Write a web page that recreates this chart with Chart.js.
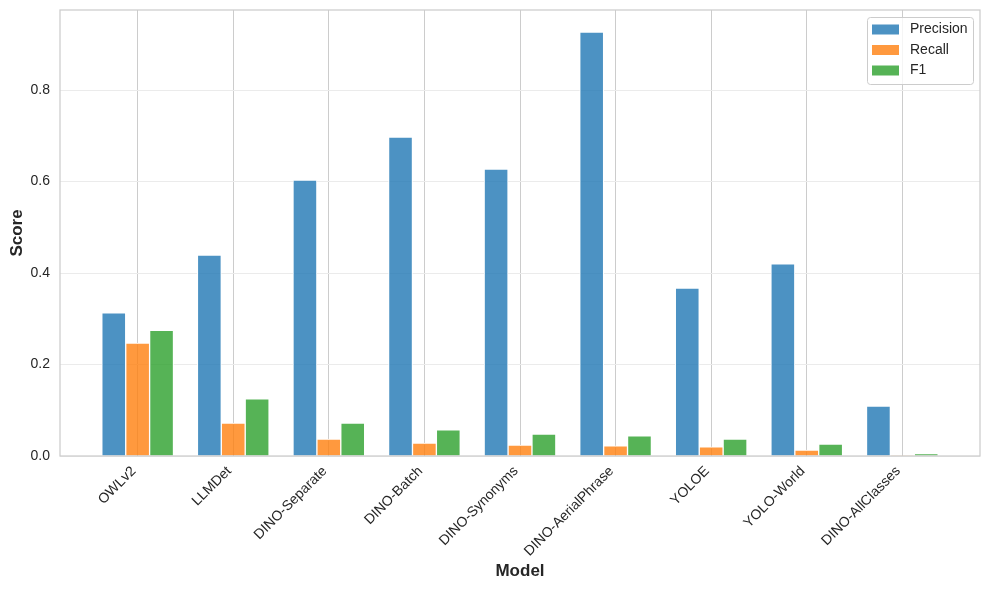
<!DOCTYPE html>
<html>
<head>
<meta charset="utf-8">
<script src="https://cdn.jsdelivr.net/npm/chart.js@4.4.0/dist/chart.umd.min.js"></script>
<style>
    html, body { margin: 0; padding: 0; background: #fff; }
</style>
</head>
<body>
<canvas id="chart_scores" width="989" height="590"></canvas>
<script>
const models = ['OWLv2', 'LLMDet', 'DINO-Separate', 'DINO-Batch', 'DINO-Synonyms', 'DINO-AerialPhrase', 'YOLOE', 'YOLO-World', 'DINO-AllClasses'];
const precision = [0.313, 0.439, 0.603, 0.697, 0.627, 0.927, 0.367, 0.420, 0.109];
const recall = [0.247, 0.072, 0.037, 0.028, 0.024, 0.022, 0.020, 0.013, 0.001];
const f1 = [0.275, 0.125, 0.072, 0.057, 0.048, 0.044, 0.037, 0.026, 0.005];
const yTicks = [0, 0.2, 0.4, 0.6, 0.8];
const barWidth = 0.25;

const FONT = '"Liberation Sans", Arial, sans-serif';
const TEXT = '#262626';

function series(label, values, shift, color) {
    return {
        label: label,
        data: values.map((v, i) => ({ x: i + shift, y: v })),
        backgroundColor: color,
        borderColor: '#ffffff',
        borderWidth: 1,
        grouped: false,
        barPercentage: 1,
        categoryPercentage: 1,
    };
}

// frame round the plot area, like the matplotlib spines
const plotFrame = {
    id: 'plotFrame',
    afterDatasetsDraw(chart) {
        const { ctx, chartArea: a } = chart;
        ctx.save();
        ctx.strokeStyle = '#cccccc';
        ctx.lineWidth = 1.25;
        ctx.strokeRect(a.left, a.top, a.right - a.left, a.bottom - a.top);
        ctx.restore();
    }
};

// legend inside the upper right corner
const insideLegend = {
    id: 'insideLegend',
    afterDraw(chart) {
        const { ctx, chartArea: a } = chart;
        const x = a.right - 113, y = a.top + 7, w = 106, h = 67;
        ctx.save();
        ctx.fillStyle = 'rgba(255,255,255,0.8)';
        ctx.strokeStyle = '#cccccc';
        ctx.lineWidth = 1;
        ctx.beginPath();
        ctx.roundRect(x + 0.5, y + 0.5, w, h, 3);
        ctx.fill();
        ctx.stroke();
        ctx.font = '14px ' + FONT;
        ctx.textBaseline = 'middle';
        chart.data.datasets.forEach((ds, i) => {
            const cy = y + 12.5 + i * 20.5;
            ctx.fillStyle = ds.backgroundColor;
            ctx.fillRect(x + 5, cy - 5, 27, 10);
            ctx.fillStyle = TEXT;
            ctx.fillText(ds.label, x + 43, cy);
        });
        ctx.restore();
    }
};

new Chart(document.getElementById('chart_scores'), {
    type: 'bar',
    data: {
        datasets: [
            series('Precision', precision, -barWidth, 'rgba(31,119,180,0.8)'),
            series('Recall', recall, 0, 'rgba(255,127,14,0.8)'),
            series('F1', f1, barWidth, 'rgba(44,160,44,0.8)'),
        ]
    },
    options: {
        responsive: false,
        animation: false,
        layout: { padding: { top: 10, right: 9, left: 0, bottom: 0 } },
        plugins: {
            legend: { display: false },
            tooltip: { enabled: false },
        },
        scales: {
            x: {
                type: 'linear',
                min: -0.8125,
                max: 8.8125,
                offset: false,
                border: { display: false },
                grid: { color: '#cccccc', lineWidth: 1, drawTicks: false, offset: false },
                afterBuildTicks: (axis) => {
                    axis.ticks = models.map((m, i) => ({ value: i }));
                },
                afterFit: (axis) => {
                    axis.height = 134;
                    axis.paddingLeft = 0;
                    axis.paddingRight = 0;
                },
                ticks: {
                    autoSkip: false,
                    minRotation: 45,
                    maxRotation: 45,
                    padding: 7,
                    labelOffset: -4,
                    color: TEXT,
                    font: { family: FONT, size: 14 },
                    callback: (v) => models[v],
                },
                title: {
                    display: true,
                    text: 'Model',
                    color: TEXT,
                    font: { family: FONT, size: 17, weight: 'bold' },
                    padding: { top: 0, bottom: 8 },
                },
            },
            y: {
                min: 0,
                max: 0.975,
                border: { display: false },
                grid: { color: '#ebebeb', lineWidth: 1, drawTicks: false },
                afterBuildTicks: (axis) => {
                    axis.ticks = yTicks.map(v => ({ value: v }));
                },
                afterFit: (axis) => {
                    axis.width = 60;
                    axis.paddingTop = 0;
                    axis.paddingBottom = 0;
                },
                ticks: {
                    padding: 10,
                    color: TEXT,
                    font: { family: FONT, size: 14 },
                    callback: (v) => v.toFixed(1),
                },
                title: {
                    display: true,
                    text: 'Score',
                    color: TEXT,
                    font: { family: FONT, size: 17, weight: 'bold' },
                    padding: { top: 7, bottom: 0 },
                },
            },
        },
    },
    plugins: [plotFrame, insideLegend],
});
</script>
</body>
</html>
